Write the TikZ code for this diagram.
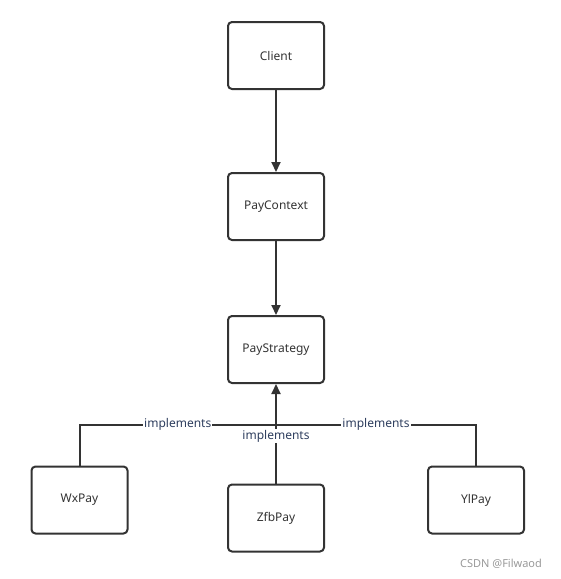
\documentclass[tikz,border=0pt]{standalone}
\usepackage{fontspec}
\setmainfont{Noto Sans}
\usetikzlibrary{arrows.meta}
\definecolor{linec}{HTML}{333333}
\definecolor{txtc}{HTML}{333333}
\definecolor{lblc}{HTML}{2F3F5F}
\definecolor{wmc}{HTML}{999999}
\begin{document}
\begin{tikzpicture}[x=1pt,y=-1pt,
  box/.style={draw=linec,line width=2pt,rounded corners=4pt,minimum width=96pt,minimum height=67pt,inner sep=0pt,text=txtc,font=\fontsize{12}{14}\selectfont},
  conn/.style={draw=linec,line width=2pt},
  arr/.style={conn,-{Triangle[length=10pt,width=9pt]}},
  lbl/.style={fill=white,text=lblc,inner sep=1pt,font=\fontsize{12}{14}\selectfont}]
\useasboundingbox (0,0) rectangle (561,579);
\node[box] (client) at (276,55.5) {Client};
\node[box] (ctx) at (276,206.5) {PayContext};
\node[box] (strat) at (276,349.5) {PayStrategy};
\node[box] (wx) at (79.5,500) {WxPay};
\node[box] (zfb) at (276,518) {ZfbPay};
\node[box] (yl) at (476,500) {YlPay};
\coordinate (j) at (276,424.5);
\draw[arr] (client) -- (ctx);
\draw[arr] (ctx) -- (strat);
\draw[arr] (j) -- (strat);
\draw[conn] (wx.north) |- (j) node[lbl,pos=0.75] {implements};
\draw[conn] (yl.north) |- (j) node[lbl,pos=0.75] {implements};
\draw[conn] (zfb.north) -- (j) node[lbl,pos=0.8] {implements};
\node[text=wmc,font=\fontsize{11}{13}\selectfont,inner sep=0pt] (wm) at (501,564) {CSDN @Filwaod};
\end{tikzpicture}
\end{document}
